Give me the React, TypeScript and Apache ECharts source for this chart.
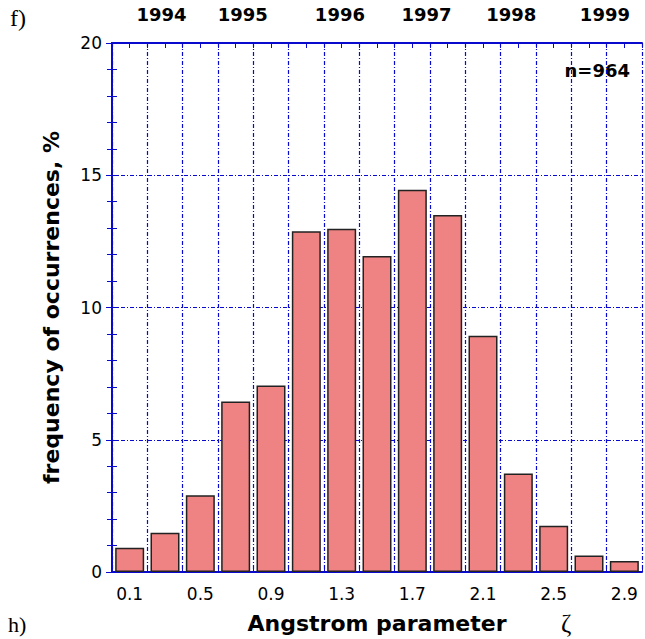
import React, { useEffect, useRef } from "react";
import * as echarts from "echarts";

const binCenters = [0.1, 0.3, 0.5, 0.7, 0.9, 1.1, 1.3, 1.5, 1.7, 1.9, 2.1, 2.3, 2.5, 2.7, 2.9];
const frequency = [0.92, 1.48, 2.9, 6.45, 7.05, 12.88, 12.98, 11.95, 14.45, 13.5, 8.93, 3.72, 1.75, 0.62, 0.42];
const yearLabels = ["1994", "1995", "1996", "1997", "1998", "1999"];
const yearPositions = [0.28, 0.74, 1.29, 1.78, 2.26, 2.79];
const sampleNote = "n=964";

const BLUE = "#0A0ACF";
const SANS = "'DejaVu Sans', Arial, sans-serif";
const SERIF = "'Liberation Serif', 'Times New Roman', serif";

export default function App() {
  const ref = useRef<HTMLDivElement>(null);
  useEffect(() => {
    if (!ref.current) return;
    const chart = echarts.init(ref.current, undefined, { renderer: "svg" });
    const gridDash = { color: BLUE, width: 1.2, type: [4, 2, 1, 2] as any };
    const option: any = {
      animation: false,
      backgroundColor: "#fff",
      grid: { left: 112, right: 2, top: 43, bottom: 63, containLabel: false },
      xAxis: [
        {
          type: "value",
          position: "bottom",
          min: 0,
          max: 3,
          interval: 0.2,
          axisLine: { show: true, lineStyle: { color: BLUE, width: 2 } },
          axisTick: { show: true, inside: true, length: 5, lineStyle: { color: BLUE } },
          minorTick: { show: true, splitNumber: 2, length: 5, lineStyle: { color: BLUE } },
          axisLabel: { show: false },
          splitLine: { show: true, lineStyle: gridDash },
        },
        {
          type: "value",
          position: "bottom",
          min: 0,
          max: 3,
          interval: 0.1,
          axisLine: { show: false },
          axisTick: { show: false },
          splitLine: { show: false },
          axisLabel: {
            show: true,
            margin: 13,
            color: "#000",
            fontSize: 17,
            fontFamily: SANS,
            formatter: (v: number) => {
              const n = Math.round(v * 10);
              return n % 4 === 1 ? (n / 10).toFixed(1) : "";
            },
          },
          name: "Angstrom parameter",
          nameLocation: "middle",
          nameGap: 40,
          nameTextStyle: { color: "#000", fontSize: 22, fontWeight: "bold", fontFamily: SANS },
        },
        {
          type: "value",
          position: "top",
          min: 0,
          max: 3,
          interval: 0.1,
          axisLine: { show: true, lineStyle: { color: BLUE, width: 2 } },
          axisTick: { show: true, inside: true, length: 5, lineStyle: { color: BLUE } },
          axisLabel: { show: false },
          splitLine: { show: false },
        },
      ],
      yAxis: [
        {
          type: "value",
          position: "left",
          min: 0,
          max: 20,
          interval: 5,
          axisLine: { show: true, lineStyle: { color: BLUE, width: 2 } },
          axisTick: { show: true, inside: true, length: 6, lineStyle: { color: BLUE } },
          minorTick: { show: true, splitNumber: 5, length: 5, lineStyle: { color: BLUE } },
          splitLine: { show: true, lineStyle: gridDash },
          axisLabel: { show: true, margin: 10, color: "#000", fontSize: 17, fontFamily: SANS },
          name: "frequency of occurrences, %",
          nameLocation: "middle",
          nameGap: 50,
          nameTextStyle: { color: "#000", fontSize: 22, fontWeight: "bold", fontFamily: SANS },
        },
        {
          type: "value",
          position: "right",
          min: 0,
          max: 20,
          interval: 5,
          axisLine: { show: true, lineStyle: { color: BLUE, width: 2 } },
          axisTick: { show: true, inside: true, length: 6, lineStyle: { color: BLUE } },
          minorTick: { show: true, splitNumber: 5, length: 5, lineStyle: { color: BLUE } },
          splitLine: { show: false },
          axisLabel: { show: false },
        },
      ],
      series: [
        {
          type: "bar",
          xAxisIndex: 0,
          yAxisIndex: 0,
          barWidth: 29,
          data: binCenters.map((x, i) => [x, frequency[i]]),
          itemStyle: { color: "#EF8383", borderColor: "#222", borderWidth: 1.5 },
        },
        {
          type: "scatter",
          xAxisIndex: 0,
          yAxisIndex: 0,
          symbolSize: 0,
          clip: false,
          silent: true,
          itemStyle: { opacity: 1 },
          data: yearPositions.map((x, i) => ({ value: [x, 20], name: yearLabels[i] })),
          label: {
            show: true,
            position: "top",
            distance: 20,
            opacity: 1,
            formatter: (p: any) => p.name,
            color: "#000",
            fontSize: 18,
            fontWeight: "bold",
            fontFamily: SANS,
          },
        },
      ],
      graphic: [
        {
          type: "text",
          left: 10,
          top: 6,
          style: { text: "f)", fontSize: 24, fontFamily: SERIF, fill: "#000" },
        },
        {
          type: "text",
          left: 8,
          top: 613,
          style: { text: "h)", fontSize: 22, fontFamily: SERIF, fill: "#000" },
        },
        {
          type: "text",
          right: 15,
          top: 61,
          style: { text: sampleNote, fontSize: 18, fontWeight: "bold", fontFamily: SANS, fill: "#000" },
        },
        {
          type: "text",
          left: 561,
          top: 611,
          style: { text: "ζ", fontSize: 25, fontFamily: SERIF, fill: "#000" },
        },
      ],
    };
    chart.setOption(option);
    return () => chart.dispose();
  }, []);
  return (
    <div
      ref={ref}
      style={{ position: "absolute", left: 0, top: 0, width: 645, height: 639, background: "#fff" }}
    />
  );
}
